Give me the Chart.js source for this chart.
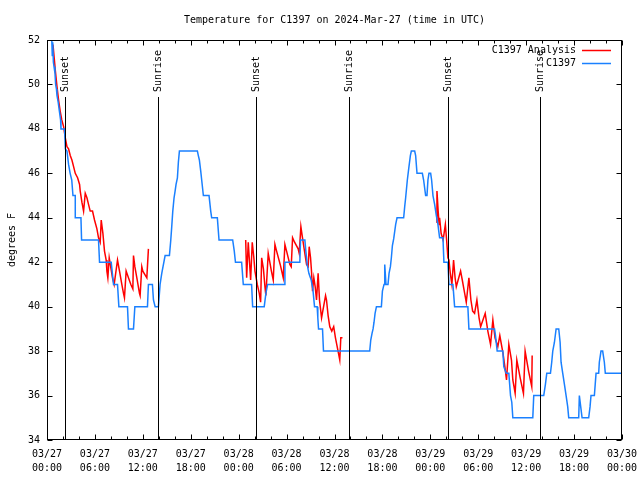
<!DOCTYPE html>
<html>
<head>
<meta charset="utf-8">
<script src="https://cdn.jsdelivr.net/npm/chart.js@4.4.1/dist/chart.umd.min.js"></script>
<style>
  body { margin: 0; background: #fff; }
  canvas { display: block; }
</style>
</head>
<body>
<canvas id="chart" width="640" height="480"></canvas>
<script>
const FONT = '"DejaVu Sans Mono", "Liberation Mono", monospace';
const TITLE = 'Temperature for C1397 on 2024-Mar-27 (time in UTC)';

// x values are hours since 03/27 00:00 UTC
const tickDates = ['03/27', '03/27', '03/27', '03/27', '03/28', '03/28', '03/28', '03/28', '03/29', '03/29', '03/29', '03/29', '03/30'];
const tickTimes = ['00:00', '06:00', '12:00', '18:00', '00:00', '06:00', '12:00', '18:00', '00:00', '06:00', '12:00', '18:00', '00:00'];

const sunHours = [2.2, 13.95, 26.2, 37.8, 50.25, 61.7];
const sunLabels = ['Sunset', 'Sunrise', 'Sunset', 'Sunrise', 'Sunset', 'Sunrise'];

// C1397 observations
const obsHours = [
  0.60, 0.66, 0.72, 0.80, 0.88, 1.00, 1.08, 1.18, 1.25, 1.40, 1.55, 1.70, 1.75, 2.20, 2.30, 2.50,
  2.70, 2.90, 3.10, 3.25, 3.54, 3.54, 4.25, 4.33, 6.45, 6.58, 8.04, 8.33, 8.83, 9.00, 10.08, 10.20,
  10.83, 11.00, 12.58, 12.70, 13.20, 13.33, 13.54, 13.95, 14.16, 14.37, 14.79, 15.33, 15.50, 15.62,
  15.75, 15.91, 16.04, 16.16, 16.33, 16.45, 16.58, 18.83, 18.95, 19.08, 19.25, 19.37, 19.58, 20.29,
  20.50, 20.62, 21.33, 21.54, 23.25, 23.45, 23.60, 24.37, 24.58, 25.62, 25.75, 27.20, 27.41, 27.62,
  29.70, 29.79, 31.66, 31.75, 32.29, 32.41, 32.58, 32.79, 33.08, 33.29, 33.50, 33.83, 33.91, 34.00,
  34.50, 34.62, 40.41, 40.54, 40.70, 40.83, 40.95, 41.08, 41.25, 41.87, 42.00, 42.20, 42.29, 42.45,
  42.70, 42.83, 43.00, 43.12, 43.25, 43.41, 43.66, 43.83, 44.66, 44.79, 44.91, 45.12, 45.29, 45.50,
  45.62, 46.04, 46.16, 46.33, 47.00, 47.16, 47.41, 47.58, 47.70, 47.83, 48.04, 48.16, 48.33, 48.54,
  48.75, 48.95, 49.16, 49.58, 49.70, 50.20, 50.33, 50.83, 51.04, 52.70, 52.83, 56.04, 56.16, 56.37,
  57.08, 57.20, 57.50, 57.83, 58.04, 58.20, 58.33, 60.83, 60.95, 62.20, 62.41, 62.58, 63.04, 63.20,
  63.33, 63.54, 63.75, 64.08, 64.25, 64.37, 64.58, 64.79, 65.00, 65.20, 65.33, 66.58, 66.66, 66.83,
  67.00, 67.83, 68.00, 68.12, 68.54, 68.75, 69.08, 69.16, 69.37, 69.58, 69.79, 69.91, 71.90
];
const obsTemps = [
  52.0, 51.3, 51.9, 51.0, 50.8, 50.5, 50.0, 49.8, 49.5, 49.2, 48.8, 48.4, 48.0, 48.0, 47.1, 47.0,
  46.4, 46.0, 45.7, 45.0, 45.0, 44.0, 44.0, 43.0, 43.0, 42.0, 42.0, 41.0, 41.0, 40.0, 40.0, 39.0,
  39.0, 40.0, 40.0, 41.0, 41.0, 40.3, 40.0, 40.0, 41.0, 41.5, 42.3, 42.3, 43.0, 43.6,
  44.3, 44.9, 45.2, 45.5, 45.8, 46.5, 47.0, 47.0, 46.8, 46.6, 46.1, 45.7, 45.0, 45.0,
  44.3, 44.0, 44.0, 43.0, 43.0, 42.5, 42.0, 42.0, 41.0, 41.0, 40.0, 40.0, 40.6, 41.0,
  41.0, 42.0, 42.0, 43.0, 43.0, 42.5, 41.9, 41.5, 41.2, 40.8, 40.0, 40.0, 39.5, 39.0,
  39.0, 38.0, 38.0, 38.5, 38.8, 39.0, 39.3, 39.7, 40.0, 40.0, 40.7, 41.0, 41.9, 41.0,
  41.0, 41.5, 41.8, 42.2, 42.75, 43.05, 43.7, 44.0, 44.0, 44.5, 44.9, 45.7, 46.2, 46.8,
  47.0, 47.0, 46.8, 46.0, 46.0, 45.7, 45.0, 45.0, 45.7, 46.0, 46.0, 45.7, 45.0, 44.6,
  44.1, 43.7, 43.1, 43.1, 42.0, 42.0, 41.0, 41.0, 40.0, 40.0, 39.0, 39.0, 38.7, 38.0,
  38.0, 37.3, 37.0, 37.0, 36.0, 35.7, 35.0, 35.0, 36.0, 36.0, 36.5, 37.0, 37.0, 37.5,
  38.0, 38.4, 39.0, 39.0, 38.4, 37.5, 37.0, 36.5, 36.0, 35.5, 35.0, 35.0, 36.0, 35.5,
  35.0, 35.0, 35.5, 36.0, 36.0, 37.0, 37.0, 37.5, 38.0, 38.0, 37.5, 37.0, 37.0
];

// C1397 Analysis (null = gap between runs)
const anaHours = [
  0.75, 0.90, 1.05, 1.25, 1.45, 1.65, 1.85, 2.08, 2.29, 2.50, 2.70, 2.91, 3.12, 3.33, 3.54, 3.83,
  4.08, 4.16, 4.37, 4.58, 4.79, 5.00, 5.20, 5.41, 5.70, 5.95, 6.25, 6.45, 6.66, 6.79, 7.00, 7.20,
  7.41, 7.50, 7.62, 7.79, 8.20, 8.41, 8.83, 9.08, 9.37, 9.58, 9.70, 9.91, 10.20, 10.50, 10.75, 10.83,
  11.00, 11.25, 11.58, 11.66, 11.87, 12.00, 12.50, 12.70,
  13.00,
  24.88, 25.00, 25.20, 25.50, 25.70, 25.90, 26.04, 26.33, 26.58, 26.75, 26.88, 27.10, 27.29, 27.41,
  27.70, 27.90, 28.10, 28.33, 28.54, 28.75, 29.20, 29.58, 29.79, 30.00, 30.41, 30.58, 30.75, 31.00,
  31.45, 31.58, 31.79, 31.95, 32.20, 32.50, 32.70, 32.83, 33.00, 33.12, 33.25, 33.41, 33.58, 33.75,
  33.95, 34.12, 34.38, 34.88, 35.00, 35.20, 35.41, 35.66, 35.90, 36.12, 36.50, 36.66, 36.79, 37.00,
  37.20,
  48.75, 48.83, 48.98, 49.10, 49.16, 49.35, 49.60, 49.88, 50.04, 50.20, 50.33, 50.50, 50.70, 50.91,
  51.10, 51.25, 51.79, 52.00, 52.30, 52.50, 52.83, 53.08, 53.30, 53.54, 53.83, 54.10, 54.30, 54.87,
  55.20, 55.54, 55.83, 56.10, 56.45, 56.70, 57.10, 57.33, 57.54, 57.83, 58.16, 58.33, 58.62, 58.83,
  59.25, 59.66, 59.87, 60.30, 60.70, 60.75
];
const anaTemps = [
  51.8, 51.2, 50.6, 49.9, 49.3, 48.8, 48.4, 48.1, 47.6, 47.2, 47.1, 46.8, 46.6, 46.3, 46.0, 45.8,
  45.5, 45.2, 44.7, 44.3, 45.1, 44.9, 44.6, 44.3, 44.3, 43.9, 43.5, 43.1, 42.9, 43.9, 43.3, 42.5,
  42.1, 41.6, 41.3, 42.2, 41.3, 41.0, 42.1, 41.6, 41.0, 40.6, 40.4, 41.6, 41.3, 41.0, 40.8, 42.3,
  41.8, 41.3, 40.6, 40.5, 41.8, 41.6, 41.3, 42.6,
  null,
  43.0, 41.3, 42.9, 41.2, 42.9, 42.2, 41.6, 41.0, 40.6, 40.2, 42.2, 41.7, 40.9, 40.5,
  42.4, 42.0, 41.6, 41.2, 42.8, 42.5, 41.9, 41.3, 42.8, 42.5, 41.9, 41.8, 43.1, 42.9,
  42.6, 42.4, 43.6, 43.2, 42.6, 41.9, 41.8, 42.7, 42.2, 41.6, 40.7, 41.3, 40.9, 40.3,
  41.5, 40.3, 39.5, 40.5, 40.3, 39.6, 39.1, 38.9, 39.1, 38.6, 37.9, 37.6, 38.6, 38.6,
  null,
  43.8, 45.2, 44.3, 43.7, 44.0, 43.3, 43.0, 43.7, 43.0, 42.2, 42.1, 41.5, 41.0, 42.1,
  41.3, 40.9, 41.6, 41.2, 40.6, 40.2, 41.3, 40.3, 39.8, 39.7, 40.3, 39.5, 39.1, 39.7,
  38.9, 38.3, 39.4, 38.6, 38.2, 38.7, 37.9, 37.3, 36.7, 38.3, 37.6, 36.7, 36.1, 37.6,
  36.8, 36.1, 38.0, 37.1, 36.4, 37.8
];

const RED = '#ff0000';
const BLUE = '#1a80ff';

const gnuplotFrame = {
  id: 'gnuplotFrame',
  afterDatasetsDraw(chart) {
    const { ctx, chartArea: a, scales: { x, y } } = chart;
    ctx.save();
    ctx.strokeStyle = '#000';
    ctx.fillStyle = '#000';
    ctx.lineWidth = 1;
    ctx.font = '10px ' + FONT;

    // title, centred over the plot like gnuplot does
    ctx.textAlign = 'center';
    ctx.textBaseline = 'middle';
    ctx.fillText(TITLE, (a.left + a.right) / 2, 20);

    // sunrise / sunset markers
    sunHours.forEach((h, i) => {
      const px = Math.round(x.getPixelForValue(h)) + 0.5;
      ctx.beginPath();
      ctx.moveTo(px, a.top + 57);
      ctx.lineTo(px, a.bottom);
      ctx.stroke();
      ctx.save();
      ctx.translate(px, a.top + 52);
      ctx.rotate(-Math.PI / 2);
      ctx.textAlign = 'left';
      ctx.textBaseline = 'middle';
      ctx.fillText(sunLabels[i], 0, 0);
      ctx.restore();
    });

    // border
    const L = a.left + 0.5, R = a.right - 0.5, T = a.top + 0.5, B = a.bottom - 0.5;
    ctx.strokeRect(L, T, R - L, B - T);

    // inward ticks, mirrored
    ctx.beginPath();
    for (let v = x.min; v <= x.max; v += 2) {
      const px = Math.round(x.getPixelForValue(v)) + 0.5;
      const len = v % 6 === 0 ? 5 : 3;
      ctx.moveTo(px, B); ctx.lineTo(px, B - len);
      ctx.moveTo(px, T); ctx.lineTo(px, T + len);
    }
    y.ticks.forEach(t => {
      const py = Math.round(y.getPixelForValue(t.value)) + 0.5;
      ctx.moveTo(L, py); ctx.lineTo(L + 5, py);
      ctx.moveTo(R, py); ctx.lineTo(R - 5, py);
    });
    ctx.stroke();

    // legend
    ctx.textAlign = 'right';
    chart.data.datasets.forEach((ds, i) => {
      const ly = a.top + 10 + i * 13;
      ctx.fillStyle = '#000';
      ctx.fillText(ds.label, a.right - 46, ly);
      ctx.strokeStyle = ds.borderColor;
      ctx.lineWidth = 1.5;
      ctx.beginPath();
      ctx.moveTo(a.right - 40, Math.round(ly) + 0.5);
      ctx.lineTo(a.right - 11, Math.round(ly) + 0.5);
      ctx.stroke();
    });
    ctx.restore();
  }
};

new Chart(document.getElementById('chart'), {
  type: 'line',
  data: {
    datasets: [
      {
        label: 'C1397 Analysis',
        data: anaHours.map((h, i) => ({ x: h, y: anaTemps[i] })),
        borderColor: RED,
        borderWidth: 1.5,
        pointRadius: 0,
        spanGaps: false,
        order: 1
      },
      {
        label: 'C1397',
        data: obsHours.map((h, i) => ({ x: h, y: obsTemps[i] })),
        borderColor: BLUE,
        borderWidth: 1.5,
        pointRadius: 0,
        order: 0
      }
    ]
  },
  options: {
    responsive: false,
    animation: false,
    devicePixelRatio: 1,
    layout: { padding: { left: 0, right: 18, top: 40, bottom: 0 } },
    plugins: {
      legend: { display: false },
      tooltip: { enabled: false },
      title: { display: false }
    },
    scales: {
      x: {
        type: 'linear',
        min: 0,
        max: 72,
        grid: { display: false, drawTicks: false },
        border: { display: false },
        ticks: {
          stepSize: 6,
          autoSkip: false,
          maxRotation: 0,
          padding: 7,
          color: '#000',
          font: { family: FONT, size: 10, lineHeight: 1.4 },
          callback: v => {
            const i = Math.round(v / 6);
            return [tickDates[i], tickTimes[i]];
          }
        },
        afterFit: s => {
          s.height = 40;
          s.paddingLeft = 0;
          s.paddingRight = 0;
        }
      },
      y: {
        min: 34,
        max: 52,
        grid: { display: false, drawTicks: false },
        border: { display: false },
        ticks: {
          stepSize: 2,
          padding: 7,
          color: '#000',
          font: { family: FONT, size: 10 }
        },
        title: {
          display: true,
          text: 'degrees F',
          color: '#000',
          font: { family: FONT, size: 10 },
          padding: { top: 6, bottom: 0 }
        },
        afterFit: s => {
          s.width = 47;
          s.paddingTop = 0;
          s.paddingBottom = 0;
        }
      }
    }
  },
  plugins: [gnuplotFrame]
});
</script>
</body>
</html>
